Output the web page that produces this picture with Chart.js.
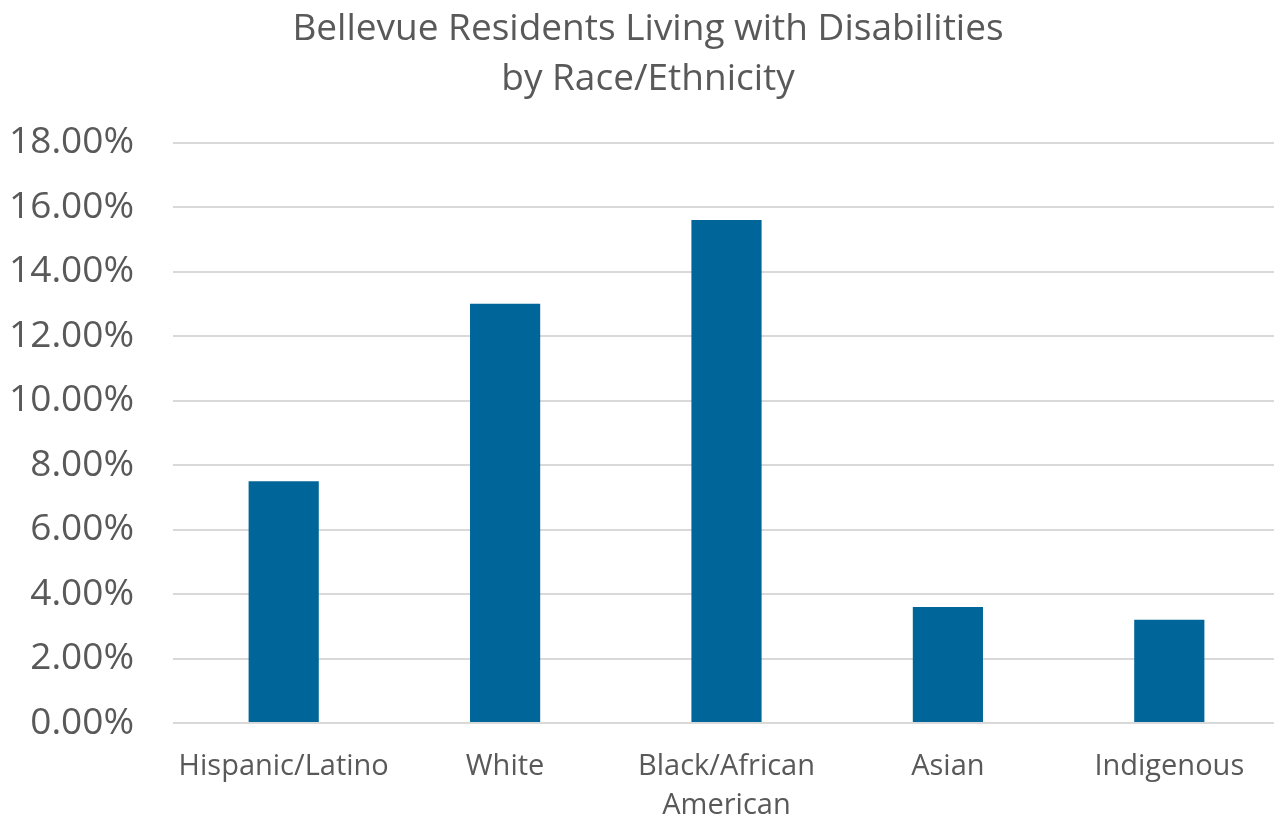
<!DOCTYPE html>
<html>
<head>
<meta charset="utf-8">
<script src="https://cdn.jsdelivr.net/npm/chart.js@4"></script>
<style>
  html, body { margin: 0; padding: 0; background: #fff; overflow: hidden; }
  #wrap { position: absolute; left: 0; top: 0; width: 1280px; height: 821px; }
</style>
</head>
<body>
<div id="wrap"><canvas id="chart" width="1280" height="821"></canvas></div>
<script>
// ====== Data ======
const categories = ["Hispanic/Latino", "White", ["Black/African", "American"], "Asian", "Indigenous"];
const shares = [7.5, 13.0, 15.6, 3.6, 3.2];
const yTicks = [0, 2, 4, 6, 8, 10, 12, 14, 16, 18];
const titleLines = ["Bellevue Residents Living with Disabilities", "by Race/Ethnicity"];

const textGray = "#595959";
const fontFamily = "'Open Sans', sans-serif";

// nudge the title block a little to the right of the canvas centre
const titleShift = {
  id: "titleShift",
  afterLayout(chart) {
    const t = chart.titleBlock;
    if (t) { t.left += 8; t.right += 8; }
  }
};

// ====== Chart Setup ======
const ctx = document.getElementById("chart").getContext("2d");
const chart = new Chart(ctx, {
  type: "bar",
  data: {
    labels: categories,
    datasets: [{
      data: shares,
      backgroundColor: "#006699",
      borderWidth: 0,
      categoryPercentage: 1,
      barPercentage: 0.317
    }]
  },
  options: {
    responsive: false,
    animation: false,
    layout: { padding: 0 },
    plugins: {
      legend: { display: false },
      tooltip: { enabled: false },
      title: {
        display: true,
        text: titleLines,
        color: textGray,
        font: { family: fontFamily, size: 37, weight: "normal", lineHeight: 1.36 },
        padding: { top: 4, bottom: 38 }
      }
    },
    scales: {
      x: {
        grid: { display: false, drawTicks: false },
        border: { display: false },
        ticks: {
          color: textGray,
          font: { family: fontFamily, size: 29, lineHeight: 1.35 },
          padding: 24,
          maxRotation: 0,
          autoSkip: false
        },
        afterFit: (scale) => { scale.height = 98; }
      },
      y: {
        min: 0,
        max: 18,
        afterBuildTicks: (scale) => { scale.ticks = yTicks.map(v => ({ value: v })); },
        grid: { color: "#d9d9d9", lineWidth: 2, drawTicks: false },
        border: { display: false },
        ticks: {
          color: textGray,
          font: { family: fontFamily, size: 37 },
          padding: 39,
          callback: (v) => v.toFixed(2) + "%"
        },
        afterFit: (scale) => { scale.width = 173; }
      }
    }
  },
  plugins: [titleShift]
});
</script>
</body>
</html>
